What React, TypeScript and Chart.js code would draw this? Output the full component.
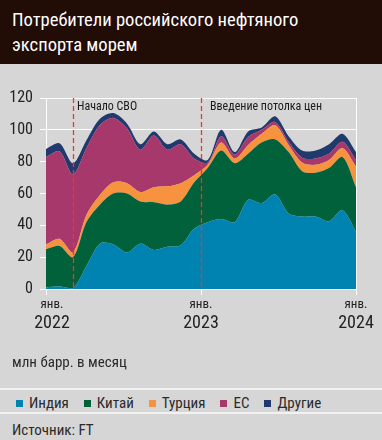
import React, { useEffect, useRef } from "react";
import { Chart, registerables } from "chart.js";

Chart.register(...registerables);

// ---------- data ----------
const months = [
  "янв. 2022", "фев. 2022", "мар. 2022", "апр. 2022", "май 2022", "июн. 2022",
  "июл. 2022", "авг. 2022", "сен. 2022", "окт. 2022", "ноя. 2022", "дек. 2022",
  "янв. 2023", "фев. 2023", "мар. 2023", "апр. 2023", "май 2023", "июн. 2023",
  "июл. 2023", "авг. 2023", "сен. 2023", "окт. 2023", "ноя. 2023", "дек. 2023",
];
const india = [1, 1.5, 0.5, 14.5, 28.5, 28, 23, 28.5, 24.5, 26.5, 27.5, 38, 42, 44, 42, 56, 54, 59.5, 47.5, 45.5, 45.5, 42.5, 49.5, 36];
const china = [24, 25.5, 19.5, 27.5, 24.5, 32, 37, 26.5, 30, 26.5, 27.5, 29, 34, 43, 37, 29, 38, 34.5, 38.5, 28.5, 27.5, 33.5, 33.5, 28];
const turkey = [3, 4.5, 3, 4.5, 6, 7, 6.5, 6, 9.5, 11.5, 11.5, 4.5, 2, 5, 3, 5.5, 5.5, 9, 4.5, 5.5, 5, 5, 5.5, 13];
const eu = [55, 55, 49, 42, 44, 40.5, 34.5, 26.5, 32.5, 23, 24.5, 10.5, 1.5, 4, 2.5, 5, 2.5, 2, 2, 3, 4, 4, 4, 4];
const others = [5, 5, 7, 5, 4, 3, 3, 3.5, 2.5, 3.5, 3, 3, 1.5, 4, 1.5, 3.5, 1.5, 3.5, 3.5, 4.5, 5, 6, 5, 5];

const seriesNames = ["Индия", "Китай", "Турция", "ЕС", "Другие"];
const seriesColors = ["#0083b0", "#00613a", "#f7923f", "#a6386c", "#213a6e"];

const xTickPositions = [0, 11.5, 23];
const xTickMonths = ["янв.", "янв.", "янв."];
const xTickYears = ["2022", "2023", "2024"];

const eventPositions = [2, 11.5];
const eventLabels = ["Начало СВО", "Введение потолка цен"];

const TITLE = ["Потребители российского нефтяного", "экспорта морем"];
const UNIT = "млн барр. в месяц";
const SOURCE = "Источник: FT";

// ---------- style ----------
const FONT = "'Roboto Condensed', 'DejaVu Sans', sans-serif";
const BG = "#d6d6d6";
const TEXT = "#222222";

export default function App() {
  const ref = useRef<HTMLCanvasElement | null>(null);

  useEffect(() => {
    if (!ref.current) return;
    Chart.defaults.font.family = FONT;
    const allSeries = [india, china, turkey, eu, others];

    const overlay = {
      id: "overlay",
      afterDatasetsDraw(chart: any) {
        const { ctx, chartArea, scales } = chart;
        const x = scales.x;
        ctx.save();
        ctx.globalAlpha = 1;
        ctx.strokeStyle = "#ff2e2e";
        ctx.lineWidth = 1.3;
        ctx.setLineDash([5, 3]);
        const textOffsets = [4, 9];
        eventPositions.forEach((p) => {
          const px = Math.round(x.getPixelForValue(p)) + 0.5;
          ctx.beginPath();
          ctx.moveTo(px, chartArea.top);
          ctx.lineTo(px, chartArea.bottom);
          ctx.stroke();
        });
        ctx.setLineDash([]);
        ctx.fillStyle = "#1a1a1a";
        ctx.font = `12px ${FONT}`;
        ctx.textBaseline = "alphabetic";
        ctx.textAlign = "left";
        eventPositions.forEach((p, i) => {
          const px = x.getPixelForValue(p);
          ctx.fillText(eventLabels[i], px + textOffsets[i], chartArea.top + 12);
        });
        ctx.restore();
      },
      afterDraw(chart: any) {
        const { ctx, chartArea, scales } = chart;
        const x = scales.x;
        ctx.save();
        ctx.fillStyle = TEXT;
        ctx.textAlign = "center";
        ctx.textBaseline = "middle";
        xTickPositions.forEach((p, i) => {
          let px = x.getPixelForValue(p);
          if (px < chartArea.left + 6) px = chartArea.left + 6;
          ctx.font = `13px ${FONT}`;
          ctx.fillText(xTickMonths[i], px, chartArea.bottom + 16);
          ctx.font = `18px ${FONT}`;
          ctx.fillText(xTickYears[i], px, chartArea.bottom + 34);
        });
        ctx.restore();
      },
    };

    const chart = new Chart(ref.current, {
      type: "line",
      data: {
        datasets: allSeries.map((s, i) => ({
          label: seriesNames[i],
          data: s.map((v, k) => ({ x: k, y: v })),
          backgroundColor: seriesColors[i],
          borderColor: "transparent",
          borderWidth: 0,
          pointRadius: 0,
          tension: 0.3,
          fill: i === 0 ? "origin" : "-1",
        })),
      },
      options: {
        responsive: false,
        maintainAspectRatio: false,
        animation: false,
        devicePixelRatio: 1,
        layout: { padding: { top: 34, right: 26, left: 0, bottom: 0 } },
        plugins: { legend: { display: false }, tooltip: { enabled: false } },
        scales: {
          x: {
            type: "linear",
            min: 0,
            max: months.length - 1,
            afterBuildTicks: (scale: any) => {
              scale.ticks = xTickPositions.map((v) => ({ value: v }));
            },
            afterFit: (scale: any) => {
              scale.height = 75;
            },
            ticks: { display: false },
            grid: {
              color: (c: any) => (c.tick && c.tick.value === months.length - 1 ? "#ffffff" : "rgba(0,0,0,0)"),
              tickColor: "#ffffff",
              tickLength: 6,
              lineWidth: 1,
            },
            border: { color: "#ffffff", width: 1 },
          },
          y: {
            stacked: true,
            min: 0,
            max: 120,
            afterFit: (scale: any) => {
              scale.width = 46;
            },
            ticks: {
              stepSize: 20,
              color: TEXT,
              font: { size: 16, family: FONT },
              padding: 7,
            },
            grid: {
              color: (c: any) => (c.tick && c.tick.value >= 100 ? "#ffffff" : "rgba(0,0,0,0)"),
              tickColor: "#ffffff",
              tickLength: 6,
              lineWidth: 1,
            },
            border: { color: "#ffffff", width: 1 },
          },
        },
      },
      plugins: [overlay],
    });
    return () => chart.destroy();
  }, []);

  return (
    <div
      style={{
        position: "fixed",
        left: 0,
        top: 0,
        width: 382,
        height: 440,
        background: BG,
        fontFamily: FONT,
        color: TEXT,
        overflow: "hidden",
      }}
    >
      <div
        style={{
          position: "absolute",
          left: 0,
          top: 0,
          width: 382,
          height: 64,
          background: "#210c06",
          color: "#ffffff",
          fontSize: 18.6,
          lineHeight: "25px",
          padding: "8px 12px",
          boxSizing: "border-box",
        }}
      >
        {TITLE[0]}
        <br />
        {TITLE[1]}
      </div>
      <canvas
        ref={ref}
        width={382}
        height={300}
        style={{ position: "absolute", left: 0, top: 64, width: 382, height: 300 }}
      />
      <div style={{ position: "absolute", left: 12, top: 353, fontSize: 15, lineHeight: "18px", color: "#2a2a2a" }}>
        {UNIT}
      </div>
      <div style={{ position: "absolute", left: 0, top: 388, width: 382, height: 2, background: "#f2f2f2" }} />
      <div
        style={{
          position: "absolute",
          left: 16,
          top: 394,
          height: 18,
          display: "flex",
          alignItems: "center",
          fontSize: 15,
          color: "#2a2a2a",
        }}
      >
        {seriesNames.map((n, i) => (
          <div key={n} style={{ display: "flex", alignItems: "center", marginRight: 15 }}>
            <span style={{ display: "inline-block", width: 7, height: 7, background: seriesColors[i], marginRight: 6 }} />
            <span>{n}</span>
          </div>
        ))}
      </div>
      <div style={{ position: "absolute", left: 0, top: 412, width: 382, height: 2, background: "#f2f2f2" }} />
      <div style={{ position: "absolute", left: 12, top: 421, fontSize: 15, lineHeight: "18px", color: "#2a2a2a" }}>
        {SOURCE}
      </div>
    </div>
  );
}
